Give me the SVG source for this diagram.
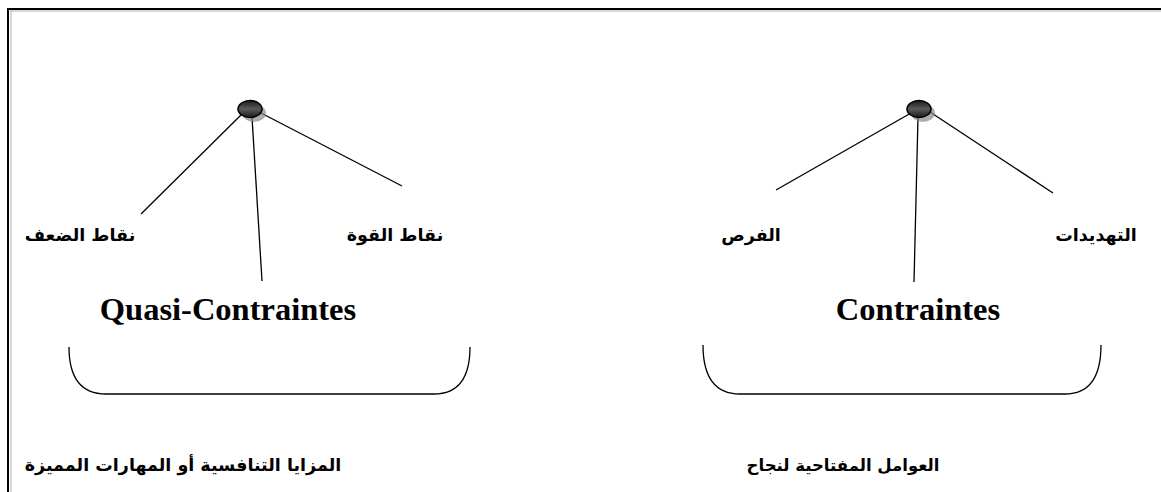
<svg xmlns="http://www.w3.org/2000/svg" width="1161" height="492" viewBox="0 0 1161 492">
  <defs>
    <linearGradient id="knob" x1="0" y1="0" x2="0" y2="1">
      <stop offset="0" stop-color="#1a1a1a"/>
      <stop offset="0.5" stop-color="#5a5a5a"/>
      <stop offset="1" stop-color="#1a1a1a"/>
    </linearGradient>
  </defs>
  <style>
    .frame { fill: none; stroke: #000; stroke-width: 2; }
    .frameShade { fill: none; stroke: #b0b0b0; stroke-width: 1; }
    .link { stroke: #000; stroke-width: 1.3; fill: none; }
    .brace { stroke: #000; stroke-width: 1.3; fill: none; }
    .knob { fill: url(#knob); stroke: #000; stroke-width: 1.5; }
    .knobShade { fill: #8a8a8a; opacity: 0.7; }
    .ar { font-family: "DejaVu Sans", "Noto Sans", sans-serif; font-weight: bold; font-size: 17.5px; fill: #000; text-anchor: middle; }
    .fr { font-family: "Liberation Serif", serif; font-weight: bold; font-size: 32.5px; fill: #000; text-anchor: middle; }
  </style>

  <rect width="1161" height="492" fill="#fff"/>

  <!-- outer frame: top and left edges -->
  <path class="frameShade" d="M10 11 H1161 M11 11 V492"/>
  <path class="frame" d="M8 492 V9 H1161"/>

  <!-- connectors -->
  <g id="connectors">
    <line class="link" x1="243" y1="113" x2="141" y2="214"/>
    <line class="link" x1="252" y1="117" x2="262" y2="281"/>
    <line class="link" x1="261" y1="113" x2="402" y2="186"/>
    <line class="link" x1="911" y1="113" x2="776" y2="190"/>
    <line class="link" x1="918" y1="117" x2="914" y2="282"/>
    <line class="link" x1="930" y1="112" x2="1053" y2="193"/>
    <path class="brace" d="M69 347 Q69 394 106 394 H434 Q470 394 470 347"/>
    <path class="brace" d="M703 345 Q703 394 740 394 H1065 Q1101 394 1101 345"/>
  </g>

  <!-- left hub -->
  <g id="hub-left">
    <ellipse class="knobShade" cx="254" cy="113" rx="12" ry="9"/>
    <ellipse class="knob" cx="250" cy="109" rx="12" ry="8.5"/>
  </g>
  <!-- right hub -->
  <g id="hub-right">
    <ellipse class="knobShade" cx="923" cy="113" rx="12" ry="9"/>
    <ellipse class="knob" cx="919" cy="109" rx="12" ry="8.5"/>
  </g>

  <g id="weaknesses"><text class="ar" x="80" y="241">نقاط الضعف</text></g>
  <g id="strengths"><text class="ar" x="395" y="241">نقاط القوة</text></g>
  <g id="opportunities"><text class="ar" x="751" y="241">الفرص</text></g>
  <g id="threats"><text class="ar" x="1096" y="241">التهديدات</text></g>

  <g id="quasi-constraints"><text class="fr" x="228" y="320">Quasi-Contraintes</text></g>
  <g id="constraints"><text class="fr" x="918" y="320">Contraintes</text></g>

  <g id="competitive-advantages"><text class="ar" x="183" y="471">المزايا التنافسية أو المهارات المميزة</text></g>
  <g id="key-success-factors"><text class="ar" x="843" y="471" style="font-size:16.5px">العوامل المفتاحية لنجاح</text></g>
</svg>
